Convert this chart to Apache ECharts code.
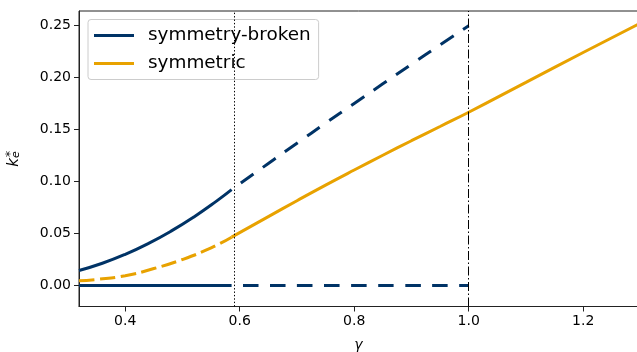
<!DOCTYPE html>
<html>
<head>
<meta charset="utf-8">
<script src="https://cdn.jsdelivr.net/npm/echarts@6/dist/echarts.min.js"></script>
<style>
html,body{margin:0;padding:0;background:#fff;}
#chart{width:637px;height:352px;}
</style>
</head>
<body>
<div id="chart"></div>
<script>
// ---- data ----
const legendNames = ["symmetry-broken", "symmetric"];
const xTicks = [0.4, 0.6, 0.8, 1.0, 1.2];
const yTicks = [0.00, 0.05, 0.10, 0.15, 0.20, 0.25];
const gammaCrit = 0.5858;   // dotted vertical line
const gammaOne = 1.0;       // dash-dot vertical line

// symmetry-broken, stable (solid) branch
const brokenSolidX = [0.3192, 0.36, 0.40, 0.44, 0.48, 0.52, 0.56, 0.5858];
const brokenSolidY = [0.0144, 0.0214, 0.0300, 0.0403, 0.0523, 0.0660, 0.0814, 0.0922];
// symmetry-broken, unstable (dashed) branch
const brokenDashX = [0.5858, 0.65, 0.70, 0.75, 0.80, 0.85, 0.90, 0.95, 1.0];
const brokenDashY = [0.0922, 0.1174, 0.1369, 0.1562, 0.1752, 0.1940, 0.2128, 0.2315, 0.25];
// symmetry-broken zero branch
const zeroSolidX = [0.3192, 0.5858];
const zeroSolidY = [0, 0];
const zeroDashX = [0.5858, 1.0];
const zeroDashY = [0, 0];
// symmetric, dashed part
const symDashX = [0.3192, 0.35, 0.40, 0.45, 0.50, 0.55, 0.5858];
const symDashY = [0.0046, 0.0058, 0.0094, 0.0163, 0.0250, 0.0362, 0.0465];
// symmetric, solid part
const symSolidX = [0.5858, 0.65, 0.70, 0.75, 0.80, 0.85, 0.90, 0.95, 1.0, 1.1, 1.2, 1.296];
const symSolidY = [0.0465, 0.0663, 0.0816, 0.0966, 0.1111, 0.1253, 0.1393, 0.1530, 0.1667, 0.1955, 0.2242, 0.2513];

const xMin = 0.3192, xMax = 1.2958, yMin = -0.0202, yMax = 0.2641;

const NAVY = '#003366';
const ORANGE = '#E8A200';
const FONT = 'DejaVu Sans';

function zip(xs, ys) { return xs.map((x, i) => [x, ys[i]]); }

const chart = echarts.init(document.getElementById('chart'), null, {renderer: 'canvas'});

function lineSeries(name, xs, ys, color, dash, offset) {
  return {
    name: name,
    type: 'line',
    data: zip(xs, ys),
    showSymbol: false,
    symbol: 'none',
    smooth: 0.5,
    clip: true,
    silent: true,
    animation: false,
    lineStyle: {color: color, width: 3, type: dash || 'solid', dashOffset: offset || 0, cap: 'butt'},
    itemStyle: {color: color}
  };
}

const option = {
  animation: false,
  backgroundColor: '#fff',
  textStyle: {fontFamily: FONT},
  grid: {left: 79, right: -1, top: 11, bottom: 45.5, containLabel: false, outerBoundsMode: 'none',
         show: true, borderColor: '#222', borderWidth: 1, backgroundColor: 'transparent'},
  legend: {
    data: legendNames,
    orient: 'vertical',
    left: 88, top: 19.5,
    padding: [6, 8, 6, 6],
    itemGap: 8,
    itemWidth: 40, itemHeight: 3,
    icon: 'rect',
    borderColor: '#cccccc', borderWidth: 1, borderRadius: 3,
    backgroundColor: 'rgba(255,255,255,0.8)',
    textStyle: {fontFamily: FONT, fontSize: 18.4, color: '#000', lineHeight: 20, padding: [0, 0, 0, 9]},
    selectedMode: false
  },
  xAxis: {
    type: 'value', min: xMin, max: xMax,
    name: 'γ', nameLocation: 'middle', nameGap: 32,
    nameTextStyle: {fontFamily: FONT, fontSize: 14, fontStyle: 'italic', color: '#000'},
    axisLine: {show: true, onZero: false, lineStyle: {color: '#222', width: 1}},
    axisTick: {show: true, length: 5, inside: false, customValues: xTicks, lineStyle: {color: '#222', width: 1}},
    axisLabel: {show: true, customValues: xTicks, fontFamily: FONT, fontSize: 14, color: '#000', margin: 8,
                formatter: v => v.toFixed(1)},
    splitLine: {show: false}
  },
  yAxis: {
    type: 'value', min: yMin, max: yMax,
    name: '{k|k}{e|e}{s|*}', nameLocation: 'middle', nameGap: 57, nameRotate: 90,
    nameTextStyle: {
      fontFamily: FONT, color: '#000',
      rich: {
        k: {fontFamily: FONT, fontSize: 15, fontStyle: 'italic', color: '#000', verticalAlign: 'bottom', lineHeight: 18},
        e: {fontFamily: FONT, fontSize: 11, fontStyle: 'italic', color: '#000', verticalAlign: 'bottom', lineHeight: 14},
        s: {fontFamily: FONT, fontSize: 13, color: '#000', verticalAlign: 'top', lineHeight: 18, padding: [0, 0, 0, -6]}
      }
    },
    axisLine: {show: true, onZero: false, lineStyle: {color: '#222', width: 1}},
    axisTick: {show: true, length: 5, inside: false, customValues: yTicks, lineStyle: {color: '#222', width: 1}},
    axisLabel: {show: true, customValues: yTicks, fontFamily: FONT, fontSize: 14, color: '#000', margin: 8,
                formatter: v => v.toFixed(2)},
    splitLine: {show: false}
  },
  series: [
    lineSeries('sb-zero-solid', zeroSolidX, zeroSolidY, NAVY),
    lineSeries('sb-zero-dash', zeroDashX, zeroDashY, NAVY, [15.5, 11.5], 15.5),
    lineSeries('sb-dash', brokenDashX, brokenDashY, NAVY, [15.5, 11.5], 15.5),
    lineSeries('sym-dash', symDashX, symDashY, ORANGE, [15.5, 5.5], 0),
    lineSeries('symmetric', symSolidX, symSolidY, ORANGE),
    Object.assign(lineSeries('symmetry-broken', brokenSolidX, brokenSolidY, NAVY), {
      markLine: {
        silent: true, symbol: 'none', animation: false,
        label: {show: false},
        data: [
          {xAxis: gammaCrit, lineStyle: {color: '#000', width: 1, type: [1.4, 2]}},
          {xAxis: gammaOne, lineStyle: {color: '#000', width: 1, type: [9, 2.5, 1.5, 2.5]}}
        ]
      }
    })
  ]
};
chart.setOption(option);
</script>
</body>
</html>
